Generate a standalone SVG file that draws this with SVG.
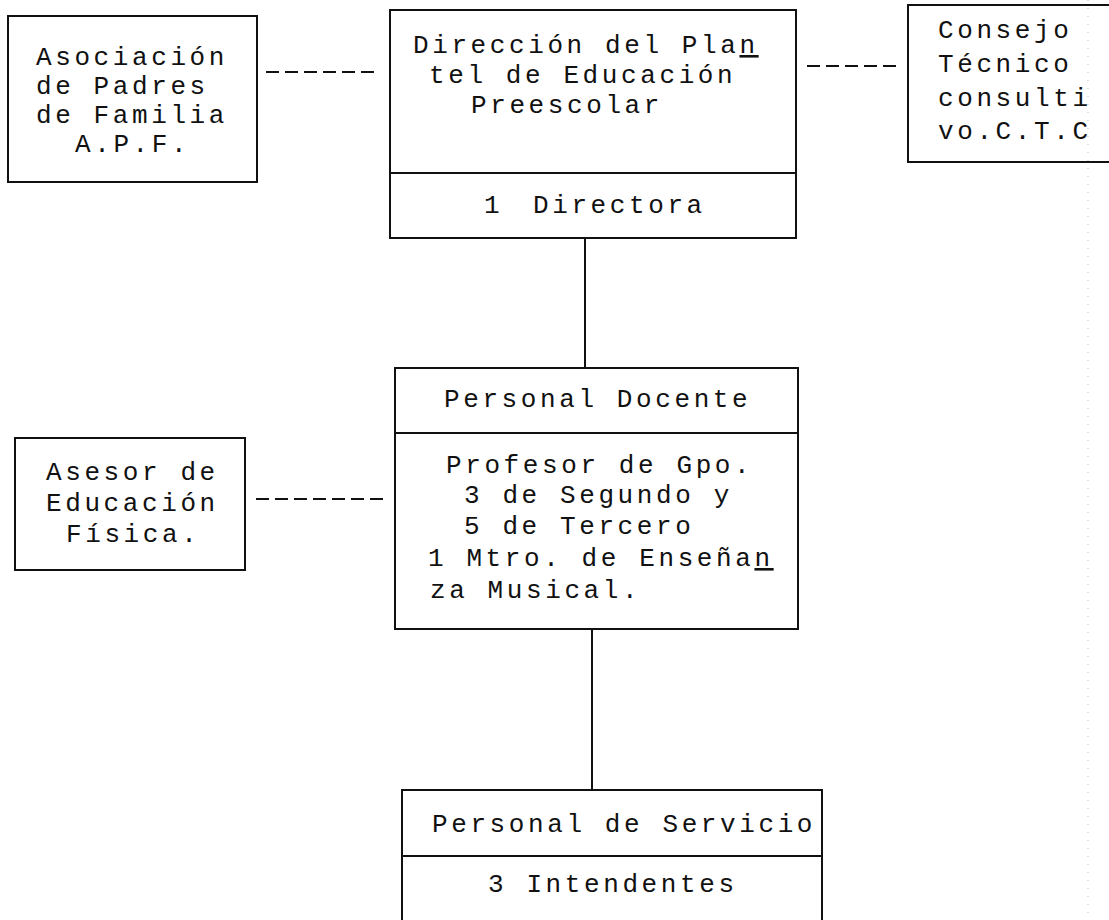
<svg xmlns="http://www.w3.org/2000/svg" width="1109" height="920" viewBox="0 0 1109 920">
<style>
.box{fill:none;stroke:#111;stroke-width:2}
.div{stroke:#111;stroke-width:2}
.t{font-family:"Liberation Mono","DejaVu Sans Mono",monospace;font-size:26px;letter-spacing:3.6px;fill:#111}
.dash{stroke:#111;stroke-width:2;stroke-dasharray:13 6;fill:none}
.solid{stroke:#111;stroke-width:2;fill:none}
.u{text-decoration:underline}
</style>
<rect width="1109" height="920" fill="#fff"/>
<line x1="1088" y1="0" x2="1088" y2="920" stroke="#bbb" stroke-width="1" stroke-dasharray="1 7"/>
<g id="connectors">
<line class="dash" x1="266" y1="72" x2="378" y2="72"/>
<line class="dash" x1="807" y1="66" x2="897" y2="66"/>
<line class="dash" x1="256" y1="499" x2="384" y2="499"/>
<line class="solid" x1="585" y1="238" x2="585" y2="368"/>
<line class="solid" x1="592" y1="629" x2="592" y2="790"/>
</g>
<g id="apf">
<rect class="box" x="8" y="16" width="249" height="166"/>
<text class="t" x="36" y="65">Asociación</text>
<text class="t" x="36" y="94">de Padres</text>
<text class="t" x="36" y="123">de Familia</text>
<text class="t" x="75" y="152">A.P.F.</text>
</g>
<g id="direccion">
<rect class="box" x="390" y="10" width="406" height="228"/>
<line class="div" x1="390" y1="173" x2="796" y2="173"/>
<text class="t" x="413" y="53">Dirección del Pla<tspan class="u">n</tspan></text>
<text class="t" x="429" y="83">tel de Educación</text>
<text class="t" x="471" y="113">Preescolar</text>
<text class="t" x="484" y="213">1</text>
<text class="t" x="533" y="213">Directora</text>
</g>
<g id="ctc">
<rect class="box" x="908" y="5" width="210" height="157"/>
<text class="t" x="938" y="38">Consejo</text>
<text class="t" x="938" y="72">Técnico</text>
<text class="t" x="938" y="106">consulti</text>
<text class="t" x="938" y="139">vo.C.T.C</text>
</g>
<g id="docente">
<rect class="box" x="395" y="368" width="403" height="261"/>
<line class="div" x1="395" y1="433" x2="798" y2="433"/>
<text class="t" x="444" y="407">Personal Docente</text>
<text class="t" x="446" y="473">Profesor de Gpo.</text>
<text class="t" x="464" y="503">3 de Segundo y</text>
<text class="t" x="464" y="534">5 de Tercero</text>
<text class="t" x="428" y="566">1 Mtro. de Enseña<tspan class="u">n</tspan></text>
<text class="t" x="430" y="598">za Musical.</text>
</g>
<g id="asesor">
<rect class="box" x="15" y="438" width="230" height="132"/>
<text class="t" x="46" y="480">Asesor de</text>
<text class="t" x="46" y="511">Educación</text>
<text class="t" x="66" y="542">Física.</text>
</g>
<g id="servicio">
<rect class="box" x="402" y="790" width="420" height="140"/>
<line class="div" x1="402" y1="856" x2="822" y2="856"/>
<text class="t" x="432" y="832">Personal de Servicio</text>
<text class="t" x="488" y="892">3 Intendentes</text>
</g>
</svg>
